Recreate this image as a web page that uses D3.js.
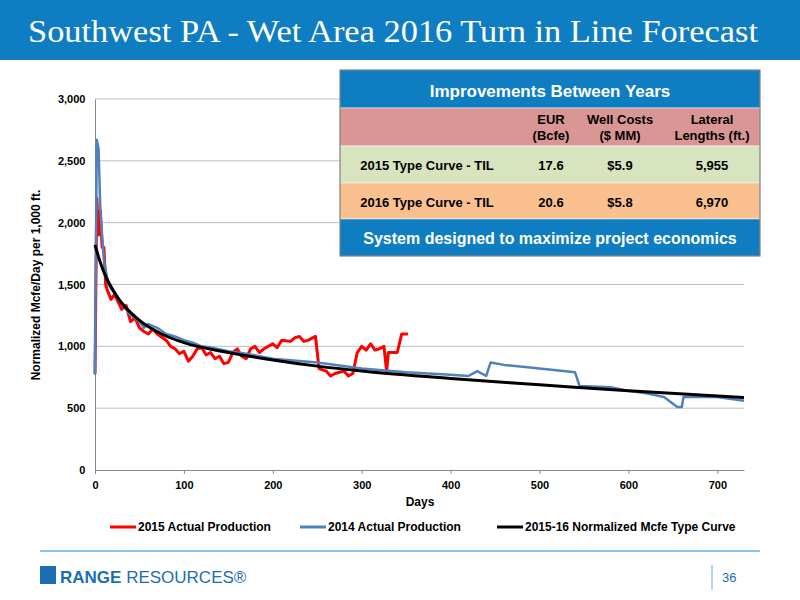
<!DOCTYPE html>
<html><head><meta charset="utf-8">
<script src="https://cdn.jsdelivr.net/npm/d3@7"></script>
<style>body{margin:0}text{font-family:"Liberation Sans",Arial,sans-serif}</style>
</head><body>
<script>
// data: [day, Mcfe/day per 1,000 ft]
const typeCurve = [[0,1820],[5,1700],[10,1600],[25,1400],[50,1210],[75,1100],[100,1030],[150,950],[200,890],[250,840],[300,800],[400,740],[500,690],[600,640],[730,585]]
const prod2015 = [[0,780],[1,1500],[2,2200],[4,1900],[6,2100],[8,1800],[10,1800],[12,1500],[14,1450],[18,1380],[22,1420],[30,1300],[35,1330],[40,1200],[45,1230],[50,1150],[55,1120],[60,1100],[65,1140],[70,1100],[80,1050],[85,1000],[90,980],[95,940],[100,960],[105,880],[110,920],[115,980],[120,990],[125,930],[130,950],[135,900],[140,920],[145,860],[150,870],[155,950],[160,980],[165,920],[170,900],[175,980],[180,1000],[185,950],[190,980],[200,1020],[205,990],[210,1050],[220,1040],[225,1070],[230,1080],[235,1040],[240,1050],[248,1080],[252,820],[260,800],[265,760],[270,780],[280,800],[285,760],[290,780],[295,950],[300,1000],[305,970],[310,1020],[315,970],[320,980],[325,1000],[328,800],[330,950],[340,950],[345,1100],[352,1100]]
const prod2014 = [[0,770],[2,2670],[4,2600],[6,2100],[8,1900],[10,1700],[15,1500],[20,1450],[25,1400],[30,1350],[35,1300],[40,1250],[45,1230],[50,1200],[55,1150],[60,1180],[70,1150],[80,1100],[90,1080],[100,1050],[110,1030],[120,1000],[130,990],[150,960],[170,940],[200,900],[250,870],[300,820],[350,790],[400,770],[420,760],[430,800],[440,760],[445,870],[460,850],[500,820],[540,790],[545,680],[580,670],[600,640],[620,620],[640,590],[655,510],[660,510],[662,590],[700,590],[730,560]]
const xTicks = [0,100,200,300,400,500,600,700]
const yTicks = [0,500,1000,1500,2000,2500,3000]
const series = [
  {name:'2015 Actual Production', data:prod2015, color:'#ff0000', w:3},
  {name:'2014 Actual Production', data:prod2014, color:'#4f81bd', w:2.5},
  {name:'2015-16 Normalized Mcfe Type Curve', data:typeCurve, color:'#000', w:3}
]
const tableRows = [
  ['2015 Type Curve - TIL','17.6','$5.9','5,955'],
  ['2016 Type Curve - TIL','20.6','$5.8','6,970']
]

const svg = d3.select('body').append('svg').attr('width',800).attr('height',600)
svg.append('rect').attr('width',800).attr('height',600).attr('fill','#fff')
svg.append('rect').attr('width',800).attr('height',60).attr('fill','#0f7dc2')
svg.append('text').attr('x',28).attr('y',42).attr('fill','#fff')
  .style('font-family','"Liberation Serif","DejaVu Serif",serif').attr('font-size',31)
  .attr('textLength',730).attr('lengthAdjust','spacingAndGlyphs')
  .text('Southwest PA - Wet Area 2016 Turn in Line Forecast')

const x = d3.scaleLinear().domain([0,730]).range([95,744])
const y = d3.scaleLinear().domain([0,3000]).range([470,99])

const g = svg.append('g')
g.selectAll('.grid').data(yTicks.slice(1)).join('line')
  .attr('x1',95).attr('x2',744).attr('y1',y).attr('y2',y).attr('stroke','#bfbfbf')
g.append('g').attr('transform','translate(0,470)')
  .call(d3.axisBottom(x).tickValues(xTicks).tickSize(4).tickSizeOuter(0))
  .call(a=>a.selectAll('text').attr('font-size',11).attr('font-weight','bold').attr('dy','1.1em'))
  .call(a=>a.selectAll('path,line').attr('stroke','#888'))
g.append('g').attr('transform','translate(95,0)')
  .call(d3.axisLeft(y).tickValues(yTicks).tickFormat(d3.format(',')).tickSize(0))
  .call(a=>a.select('.domain').attr('stroke','#888'))
  .call(a=>a.selectAll('text').attr('font-size',11).attr('font-weight','bold').attr('dx','-0.6em'))
svg.append('text').attr('x',420).attr('y',506).attr('text-anchor','middle')
  .attr('font-size',12).attr('font-weight','bold').text('Days')
svg.append('text').attr('transform','translate(40,285) rotate(-90)').attr('text-anchor','middle')
  .attr('font-size',12).attr('font-weight','bold').text('Normalized Mcfe/Day per 1,000 ft.')

const line = d3.line().x(d=>x(d[0])).y(d=>y(d[1]))
const curve = d3.line().x(d=>x(d[0])).y(d=>y(d[1])).curve(d3.curveMonotoneX)
series.forEach((s,i)=>{
  g.append('path').datum(s.data).attr('d', i===2 ? curve : line)
    .attr('fill','none').attr('stroke',s.color).attr('stroke-width',s.w).attr('stroke-linejoin','round')
})

// legend
const lx = [110,300,497]
series.forEach((s,i)=>{
  const lg = svg.append('g').attr('transform',`translate(${lx[i]},527)`)
  lg.append('line').attr('x1',0).attr('x2',26).attr('stroke',s.color).attr('stroke-width',3)
  lg.append('text').attr('x',28).attr('y',4).attr('font-size',12).attr('font-weight','bold').text(s.name)
})

// table
const t = svg.append('g').attr('transform','translate(340,70)')
const rowsY = [0,38,76,113,149,186]
const fills = ['#0f7dc2','#d99694','#d7e4bd','#fac090','#0f7dc2']
fills.forEach((f,i)=>t.append('rect').attr('x',0).attr('y',rowsY[i]).attr('width',420)
  .attr('height',rowsY[i+1]-rowsY[i]).attr('fill',f).attr('stroke','#fff').attr('stroke-width',0.5))
t.append('rect').attr('width',420).attr('height',186).attr('fill','none').attr('stroke','#666')
t.append('text').attr('x',210).attr('y',27).attr('text-anchor','middle').attr('fill','#fff')
  .attr('font-size',17).attr('font-weight','bold').text('Improvements Between Years')
t.append('text').attr('x',210).attr('y',174).attr('text-anchor','middle').attr('fill','#fff')
  .attr('font-size',16).attr('font-weight','bold').text('System designed to maximize project economics')
const cx = [87,211,280,372]
const hdr = [['EUR','(Bcfe)'],['Well Costs','($ MM)'],['Lateral','Lengths (ft.)']]
hdr.forEach((h,i)=>h.forEach((l,j)=>t.append('text').attr('x',cx[i+1]).attr('y',54+j*16)
  .attr('text-anchor','middle').attr('font-size',13).attr('font-weight','bold').text(l)))
tableRows.forEach((r,ri)=>r.forEach((v,ci)=>t.append('text').attr('x',cx[ci]).attr('y',100+ri*37)
  .attr('text-anchor','middle').attr('font-size',13).attr('font-weight','bold').text(v)))

// footer
svg.append('line').attr('x1',40).attr('x2',760).attr('y1',551).attr('y2',551).attr('stroke','#5bb2e6').attr('stroke-width',1.5)
svg.append('rect').attr('x',40).attr('y',566).attr('width',16).attr('height',18).attr('fill','#1d6db5')
svg.append('text').attr('x',60).attr('y',583).attr('fill','#1d6db5').attr('font-size',17)
  .style('font-family','"Liberation Sans Narrow","Liberation Sans",sans-serif')
  .html('<tspan font-weight="bold">RANGE</tspan> RESOURCES®')
svg.append('line').attr('x1',712).attr('x2',712).attr('y1',565).attr('y2',590).attr('stroke','#5bb2e6')
svg.append('text').attr('x',722).attr('y',582).attr('fill','#1d6db5').attr('font-size',13).text('36')
</script>
</body></html>
